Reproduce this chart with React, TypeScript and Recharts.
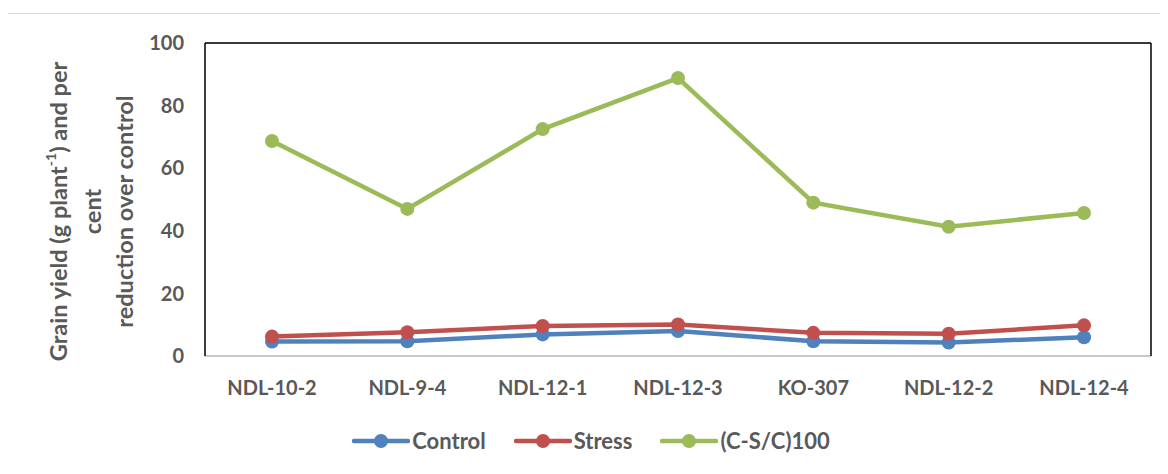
import React from 'react';
import { LineChart, Line, XAxis, YAxis, CartesianGrid, Legend, ReferenceLine } from 'recharts';

const categories = ['NDL-10-2', 'NDL-9-4', 'NDL-12-1', 'NDL-12-3', 'KO-307', 'NDL-12-2', 'NDL-12-4'];
const control = [4.6, 4.7, 6.9, 8.0, 4.7, 4.3, 6.0];
const stress = [6.2, 7.6, 9.6, 10.1, 7.4, 7.1, 9.8];
const reduction = [68.7, 47.0, 72.5, 88.8, 49.0, 41.3, 45.7];
const yTicks = [0, 20, 40, 60, 80, 100];

const data = categories.map((c, i) => ({ name: c, control: control[i], stress: stress[i], reduction: reduction[i] }));

const FONT = 'Lato, "Open Sans", sans-serif';
const GRAY = '#595959';

const series = [
  { key: 'control', name: 'Control', color: '#4f81bd' },
  { key: 'stress', name: 'Stress', color: '#c0504d' },
  { key: 'reduction', name: '(C-S/C)100', color: '#9bbb59' },
];

const YLabel = (props: any) => {
  const vb = props.viewBox || {};
  const cy = vb.y + vb.height / 2 + 12;
  const base = 50;
  const common = { fontFamily: FONT, fontWeight: 700, fontSize: 23.5, fill: GRAY, textAnchor: 'middle', dominantBaseline: 'central' } as any;
  return (
    <g>
      <text x={base} y={cy} transform={`rotate(-90 ${base} ${cy})`} {...common}>
        Grain yield (g plant<tspan dy={-8} fontSize={14}>-1</tspan><tspan dy={8}>) and per</tspan>
      </text>
      <text x={base + 34} y={cy} transform={`rotate(-90 ${base + 34} ${cy})`} {...common}>
        cent
      </text>
      <text x={base + 66} y={cy} transform={`rotate(-90 ${base + 66} ${cy})`} {...common}>
        reduction over control
      </text>
    </g>
  );
};

const LegendContent = () => (
  <div style={{ display: 'flex', justifyContent: 'center', fontFamily: FONT, fontWeight: 700, fontSize: 22, lineHeight: '24px', height: 24, overflow: 'visible', color: GRAY, paddingLeft: 6 }}>
    {series.map((s, i) => (
      <div key={s.key} style={{ display: 'flex', alignItems: 'center', marginRight: i < 2 ? 28 : 0 }}>
        <svg width={58} height={16} style={{ marginRight: 2 }}>
          <line x1={2} y1={8} x2={56} y2={8} stroke={s.color} strokeWidth={4.5} strokeLinecap="round" />
          <circle cx={29} cy={8} r={7} fill={s.color} />
        </svg>
        <span>{s.name}</span>
      </div>
    ))}
  </div>
);

export default function App() {
  return (
    <div style={{ position: 'relative', width: 1160, height: 466 }}>
      <div style={{ position: 'absolute', left: -1, top: 5, width: 1170, height: 470, border: '1.5px solid #d9d9d9', boxSizing: 'border-box' }} />
      <LineChart width={1160} height={466} data={data} margin={{ top: 35, right: 16, left: 0, bottom: 34 }}>
        <CartesianGrid vertical={false} stroke="#d9d9d9" strokeWidth={1.5} />
        <XAxis
          dataKey="name"
          axisLine={{ stroke: '#bfbfbf', strokeWidth: 1.5 }}
          tickLine={false}
          tickSize={0}
          tickMargin={25}
          height={60}
          interval={0}
          padding={{ left: 67, right: 67 }}
          tick={{ fontFamily: FONT, fontWeight: 700, fontSize: 20, fill: GRAY }}
        />
        <YAxis
          yAxisId="left"
          width={197}
          domain={[0, 100]}
          ticks={yTicks}
          axisLine={{ stroke: '#000', strokeWidth: 1.5 }}
          tickLine={false}
          tickSize={0}
          tickMargin={21}
          tick={{ fontFamily: FONT, fontWeight: 700, fontSize: 20, fill: GRAY }}
          label={{ content: YLabel }}
        />
        <YAxis
          yAxisId="right"
          orientation="right"
          width={1}
          domain={[0, 100]}
          ticks={yTicks}
          axisLine={{ stroke: '#000', strokeWidth: 1.5 }}
          tickLine={false}
          tick={false}
        />
        <ReferenceLine yAxisId="left" y={100} stroke="#000" strokeWidth={1.5} />
        <Legend content={<LegendContent />} wrapperStyle={{ top: 421, left: 0, width: 1160 }} />
        {series.map((s) => (
          <Line
            key={s.key}
            yAxisId="left"
            type="linear"
            dataKey={s.key}
            name={s.name}
            stroke={s.color}
            strokeWidth={4.5}
            dot={{ r: 7, fill: s.color, stroke: s.color, strokeWidth: 0 }}
            activeDot={false}
            isAnimationActive={false}
          />
        ))}
      </LineChart>
    </div>
  );
}
